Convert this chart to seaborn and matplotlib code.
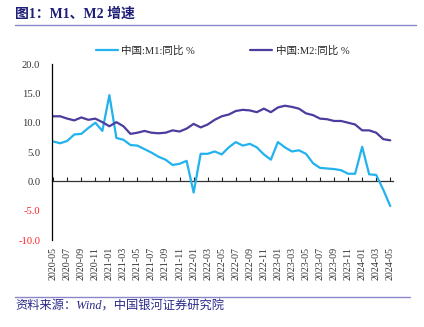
import matplotlib
matplotlib.use("Agg")
import matplotlib.pyplot as plt
import seaborn as sns
import pandas as pd
import numpy as np

# Monthly series, 2020-05 to 2024-05
months = [str(p) for p in pd.period_range("2020-05", "2024-05", freq="M")]

m1_yoy = [6.8, 6.5, 6.9, 8.0, 8.1, 9.1, 10.0, 8.6,
          14.7, 7.4, 7.1, 6.2, 6.1, 5.5, 4.9, 4.2, 3.7, 2.8, 3.0, 3.5,
          -1.9, 4.7, 4.7, 5.1, 4.6, 5.8, 6.7, 6.1, 6.4, 5.8, 4.6, 3.7,
          6.7, 5.8, 5.1, 5.3, 4.7, 3.1, 2.3, 2.2, 2.1, 1.9, 1.3, 1.3,
          5.9, 1.2, 1.1, -1.4, -4.2]
m2_yoy = [11.1, 11.1, 10.7, 10.4, 10.9, 10.5, 10.7, 10.1,
          9.4, 10.1, 9.4, 8.1, 8.3, 8.6, 8.3, 8.2, 8.3, 8.7, 8.5, 9.0,
          9.8, 9.2, 9.7, 10.5, 11.1, 11.4, 12.0, 12.2, 12.1, 11.8, 12.4, 11.8,
          12.6, 12.9, 12.7, 12.4, 11.6, 11.3, 10.7, 10.6, 10.3, 10.3, 10.0, 9.7,
          8.7, 8.7, 8.3, 7.2, 7.0]

series_names = ["中国:M1:同比 %", "中国:M2:同比 %"]
series_colors = ["#22B2EE", "#4B3D9E"]
y_ticks = [-10, -5, 0, 5, 10, 15, 20]

df = pd.DataFrame({
    "idx": list(range(len(months))) * 2,
    "value": m1_yoy + m2_yoy,
    "series": [series_names[0]] * len(months) + [series_names[1]] * len(months),
})

sns.set_theme(style="white")
plt.rcParams["font.family"] = ["Liberation Serif", "Noto Sans CJK SC", "DejaVu Sans"]

fig = plt.figure(figsize=(4.24, 3.27), dpi=100)
ax = fig.add_axes([0.123, 0.266, 0.804, 0.538])

sns.lineplot(data=df, x="idx", y="value", hue="series", hue_order=series_names,
             palette=series_colors, linewidth=1.6, ax=ax, legend=False)

ax.set_xlim(-0.15, 48.4)
ax.set_ylim(-10, 20)
ax.set_xlabel("")
ax.set_ylabel("")

# y axis
ax.set_yticks(y_ticks)
ax.set_yticklabels([f"{v:.1f}" for v in y_ticks], fontsize=7.6)
for lab, v in zip(ax.get_yticklabels(), y_ticks):
    lab.set_color("#FF2020" if v < 0 else "#333333")
ax.tick_params(axis="y", direction="in", length=2.5, width=0.8, color="black", pad=8.5)

# x tick labels at the bottom of the plot area
xt = list(range(0, len(months), 2))
ax.set_xticks(xt)
ax.set_xticklabels([months[i] for i in xt], rotation=90, fontsize=7.2, color="#333333")
ax.tick_params(axis="x", length=0, pad=5)

for s in ["top", "right", "bottom"]:
    ax.spines[s].set_visible(False)
ax.spines["left"].set_color("black")
ax.spines["left"].set_linewidth(0.9)

# zero line with inward ticks
zero_frac = (0 - (-10)) / 30
sec = ax.secondary_xaxis(zero_frac)
sec.set_xticks(xt)
sec.set_xticklabels([""] * len(xt))
sec.tick_params(axis="x", direction="in", length=3, width=0.8, color="#222222")
sec.spines["bottom"].set_color("#333333")
sec.spines["bottom"].set_linewidth(0.9)
ax.set_zorder(2)

# legend
handles = [plt.Line2D([], [], color=c, lw=1.6) for c in series_colors]
fig.legend(handles, series_names, loc="center", bbox_to_anchor=(0.525, 0.844),
           ncol=2, frameon=False, handlelength=2.1,
           handletextpad=0.35, columnspacing=5.2,
           prop={"family": ["Liberation Serif", "Noto Sans CJK SC"], "size": 7.6})

# title, rules and source note
fig.text(0.036, 0.957, "图1：M1、M2 增速", fontsize=10, fontweight="bold",
         color="#1E1E78", ha="left", va="center",
         family=["Liberation Serif", "Noto Sans CJK SC"])
fig.add_artist(plt.Line2D([0.036, 0.98], [0.924, 0.924], color="#8C86C8", lw=1.0))
fig.add_artist(plt.Line2D([0.036, 0.968], [0.092, 0.092], color="#8C86C8", lw=1.0))
fig.text(0.036, 0.062, "资料来源：Wind，中国银河证券研究院", fontsize=8.8,
         color="#2A2A8A", ha="left", va="center", style="italic",
         family=["Liberation Serif", "Noto Sans CJK SC"])

fig.savefig("out.png", dpi=100)
